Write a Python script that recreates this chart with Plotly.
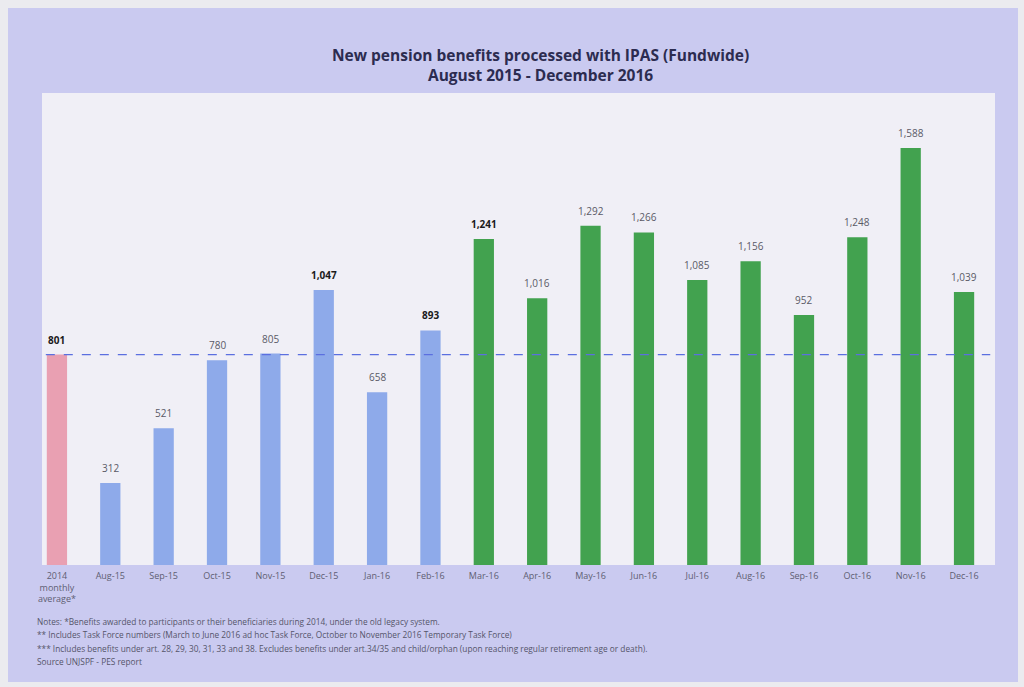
import plotly.graph_objects as go

# Monthly counts of new pension benefits processed with IPAS
categories = ["2014<br>monthly<br>average*", "Aug-15", "Sep-15", "Oct-15", "Nov-15", "Dec-15",
              "Jan-16", "Feb-16", "Mar-16", "Apr-16", "May-16", "Jun-16", "Jul-16",
              "Aug-16", "Sep-16", "Oct-16", "Nov-16", "Dec-16"]
benefits = [801, 312, 521, 780, 805, 1047, 658, 893, 1241, 1016, 1292, 1266, 1085,
            1156, 952, 1248, 1588, 1039]
baseline_avg = 801
bold_labels = {"2014<br>monthly<br>average*", "Dec-15", "Feb-16", "Mar-16"}

footnotes = [
    "Notes: *Benefits awarded to participants or their beneficiaries during 2014, under the old legacy system.",
    "** Includes Task Force numbers (March to June 2016 ad hoc Task Force, October to November 2016 Temporary Task Force)",
    "*** Includes benefits under art. 28, 29, 30, 31, 33 and 38. Excludes benefits under art.34/35 and child/orphan (upon reaching regular retirement age or death).",
    "Source UNJSPF - PES report",
]

PINK, BLUE, GREEN = "#e9a0b2", "#8eaaea", "#42a24f"
colors = []
for c in categories:
    if c.startswith("2014"):
        colors.append(PINK)
    elif c.endswith("15") or c in ("Jan-16", "Feb-16"):
        colors.append(BLUE)
    else:
        colors.append(GREEN)

W, H = 1024, 687
L, R, T, B = 42, 29, 93, 122
pw, ph = W - L - R, H - T - B


def px_x(x):
    return (x - L) / pw


def px_y(y):
    return (H - B - y) / ph


fig = go.Figure()
fig.add_trace(go.Bar(
    x=categories, y=benefits, width=0.38,
    marker=dict(color=colors, line=dict(width=0)),
    hoverinfo="skip",
))

shapes = [
    # lavender card behind the chart
    dict(type="rect", xref="paper", yref="paper", layer="below",
         x0=px_x(8), x1=px_x(1018), y0=px_y(682), y1=px_y(8),
         fillcolor="#cacaf0", line=dict(width=0)),
    # plot area panel
    dict(type="rect", xref="paper", yref="paper", layer="below",
         x0=0, x1=1, y0=0, y1=1, fillcolor="#f0eff6", line=dict(width=0)),
    # 2014 monthly average reference line
    dict(type="line", xref="paper", yref="y", x0=0.004, x1=0.995,
         y0=baseline_avg, y1=baseline_avg,
         line=dict(color="#5b6fe0", width=1.3, dash="dash")),
]

annotations = [
    dict(text="<b>New pension benefits processed with IPAS (Fundwide)</b><br><b>August 2015 - December 2016</b>",
         xref="paper", yref="paper", x=px_x(540), y=px_y(65), showarrow=False,
         xanchor="center", yanchor="middle",
         font=dict(family="Open Sans", size=15.5, color="#2c2c50")),
]

# value labels above each bar
for c, v in zip(categories, benefits):
    s = f"{v:,}"
    bold = c in bold_labels
    annotations.append(dict(
        x=c, y=v, xref="x", yref="y", text=f"<b>{s}</b>" if bold else s,
        showarrow=False, yanchor="middle", yshift=15,
        font=dict(family="Open Sans", size=10, color="#1a1a1a" if bold else "#5a5a66")))

for i, line in enumerate(footnotes):
    annotations.append(dict(
        text=line, xref="paper", yref="paper", x=px_x(35), y=px_y(621 + 13.5 * i),
        xanchor="left", yanchor="middle", showarrow=False,
        font=dict(family="Open Sans", size=8.3, color="#55556a")))

fig.update_layout(
    width=W, height=H,
    margin=dict(l=L, r=R, t=T, b=B, pad=0),
    paper_bgcolor="#ebebef",
    plot_bgcolor="rgba(0,0,0,0)",
    showlegend=False,
    shapes=shapes,
    annotations=annotations,
    xaxis=dict(range=[-0.28, 17.58], showgrid=False, zeroline=False, showline=False,
               ticks="", ticklabelstandoff=4,
               tickfont=dict(family="Open Sans", size=9, color="#5e5e72")),
    yaxis=dict(range=[0, 1797], visible=False, showgrid=False, zeroline=False),
)

fig.write_html("out.html")
